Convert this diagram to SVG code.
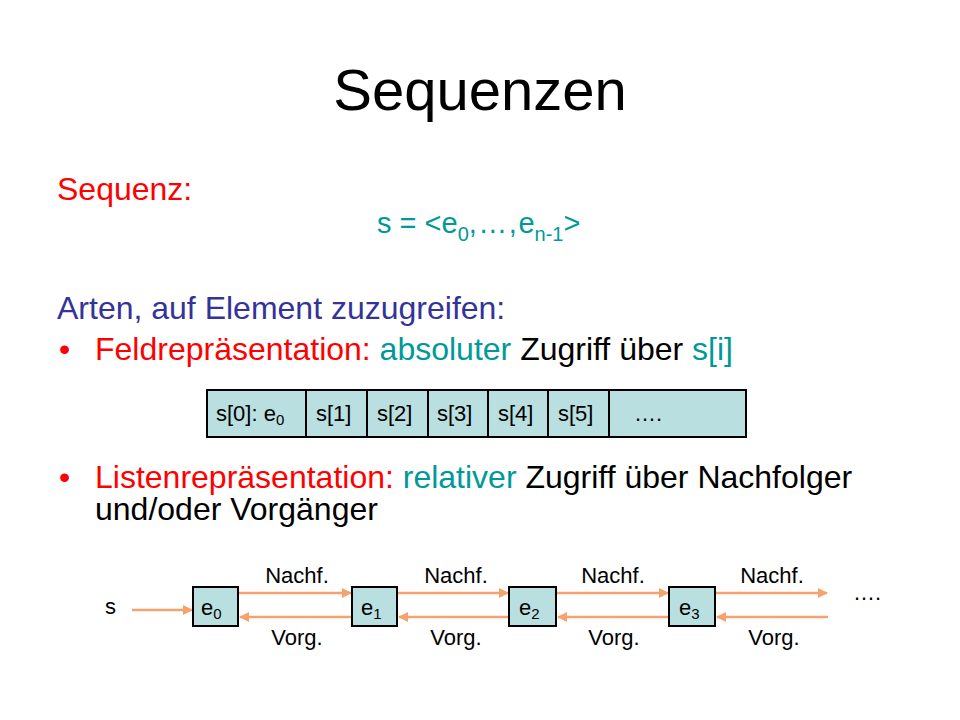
<svg xmlns="http://www.w3.org/2000/svg" width="960" height="720" viewBox="0 0 960 720">
<style>
text{font-family:"Liberation Sans",Arial,sans-serif}
.red{fill:#FF0000}.teal{fill:#009999}.blk{fill:#000}.blue{fill:#333399}
.cell{fill:#BADFE1;stroke:#000;stroke-width:2}
.arr{stroke:#F5A26E;stroke-width:2.5;fill:none;marker-end:url(#ah)}
.lbl{font-size:22px;text-anchor:middle}
.big{font-size:32px}
.cel{font-size:22px}
</style>
<defs>
<marker id="ah" viewBox="0 0 10 10" refX="9" refY="5" markerWidth="4" markerHeight="4" orient="auto" markerUnits="strokeWidth">
<path d="M0,0 L10,5 L0,10 z" fill="#F5A26E"/>
</marker>
</defs>
<rect width="960" height="720" fill="#fff"/>
<text x="480" y="110" font-size="58" text-anchor="middle">Sequenzen</text>
<text x="57" y="200" class="big red">Sequenz:</text>
<text x="377" y="233" font-size="29" class="teal">s = &lt;e<tspan font-size="20" dy="8">0</tspan><tspan dy="-8" letter-spacing="1.5">,…,</tspan><tspan>e</tspan><tspan font-size="20" dy="8">n-1</tspan><tspan dy="-8">&gt;</tspan></text>
<text x="57" y="319" class="big blue">Arten, auf Element zuzugreifen:</text>
<text x="59" y="360" class="big red">•</text>
<text x="95" y="360" class="big"><tspan class="red">Feldrepräsentation:</tspan><tspan class="teal"> absoluter</tspan><tspan class="blk"> Zugriff über</tspan><tspan class="teal"> s[i]</tspan></text>

<g id="array">
<rect class="cell" x="207" y="390" width="539" height="47"/>
<line x1="306" y1="390" x2="306" y2="437" stroke="#000" stroke-width="2"/>
<line x1="367" y1="390" x2="367" y2="437" stroke="#000" stroke-width="2"/>
<line x1="428" y1="390" x2="428" y2="437" stroke="#000" stroke-width="2"/>
<line x1="488" y1="390" x2="488" y2="437" stroke="#000" stroke-width="2"/>
<line x1="548" y1="390" x2="548" y2="437" stroke="#000" stroke-width="2"/>
<line x1="609" y1="390" x2="609" y2="437" stroke="#000" stroke-width="2"/>
<text x="216" y="421" class="cel">s[0]: e<tspan font-size="15" dy="4">0</tspan></text>
<text x="316" y="421" class="cel">s[1]</text>
<text x="377" y="421" class="cel">s[2]</text>
<text x="437" y="421" class="cel">s[3]</text>
<text x="498" y="421" class="cel">s[4]</text>
<text x="558" y="421" class="cel">s[5]</text>
<text x="634" y="421" class="cel">….</text>
</g>

<text x="59" y="488" class="big red">•</text>
<text x="95" y="488" class="big"><tspan class="red">Listenrepräsentation:</tspan><tspan class="teal"> relativer</tspan><tspan class="blk"> Zugriff über Nachfolger</tspan></text>
<text x="95" y="520" class="big blk">und/oder Vorgänger</text>

<g id="connectors">
<line class="arr" x1="132" y1="610" x2="192" y2="610"/>
<line class="arr" x1="239" y1="593" x2="351" y2="593"/>
<line class="arr" x1="351" y1="617" x2="240" y2="617"/>
<line class="arr" x1="398" y1="593" x2="508" y2="593"/>
<line class="arr" x1="508" y1="617" x2="399" y2="617"/>
<line class="arr" x1="557" y1="593" x2="668" y2="593"/>
<line class="arr" x1="668" y1="617" x2="558" y2="617"/>
<line class="arr" x1="716" y1="593" x2="827" y2="593"/>
<line class="arr" x1="828" y1="617" x2="717" y2="617"/>
</g>

<text x="105" y="614" font-size="22">s</text>
<g id="e0"><rect class="cell" x="193" y="587" width="45" height="39"/><text x="201" y="615" font-size="22">e<tspan font-size="15" dy="4">0</tspan></text></g>
<g id="e1"><rect class="cell" x="352" y="587" width="45" height="39"/><text x="361" y="615" font-size="22">e<tspan font-size="15" dy="4">1</tspan></text></g>
<g id="e2"><rect class="cell" x="509" y="587" width="47" height="39"/><text x="519" y="615" font-size="22">e<tspan font-size="15" dy="4">2</tspan></text></g>
<g id="e3"><rect class="cell" x="669" y="587" width="46" height="39"/><text x="679" y="615" font-size="22">e<tspan font-size="15" dy="4">3</tspan></text></g>

<text class="lbl" x="297" y="583">Nachf.</text>
<text class="lbl" x="456" y="583">Nachf.</text>
<text class="lbl" x="613" y="583">Nachf.</text>
<text class="lbl" x="772" y="583">Nachf.</text>
<text class="lbl" x="297" y="645">Vorg.</text>
<text class="lbl" x="456" y="645">Vorg.</text>
<text class="lbl" x="614" y="645">Vorg.</text>
<text class="lbl" x="774" y="645">Vorg.</text>
<text x="853" y="600" font-size="22">….</text>
</svg>
